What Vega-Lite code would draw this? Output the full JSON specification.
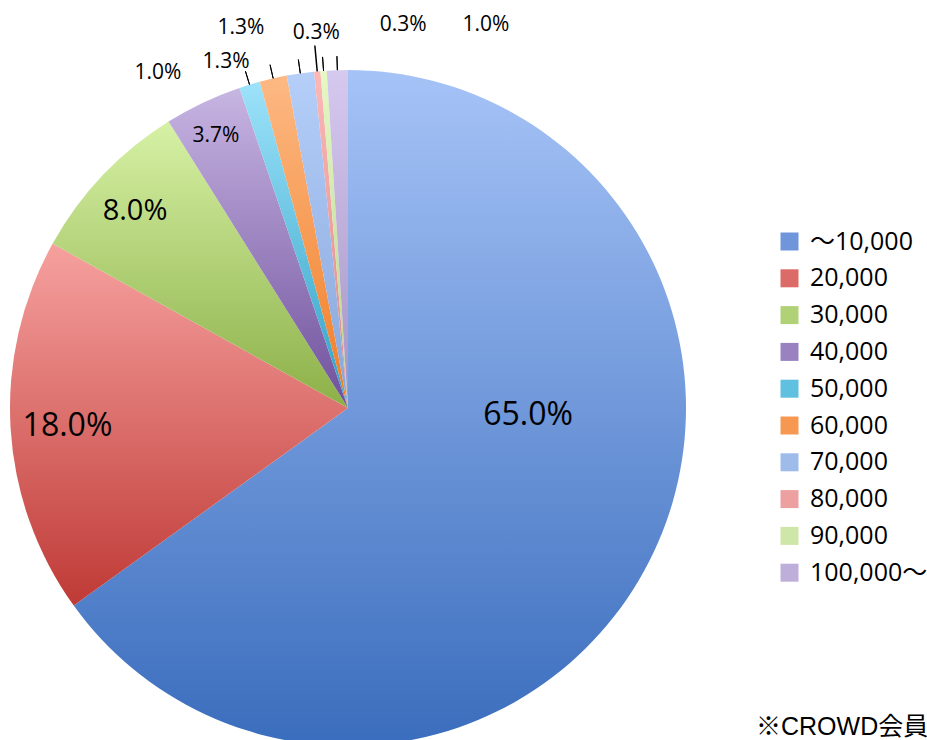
{
  "$schema": "https://vega.github.io/schema/vega-lite/v6.json",
  "width": 696,
  "height": 816,
  "autosize": {"type": "none"},
  "padding": {"left": 0, "top": 0, "right": 231, "bottom": -76},
  "background": "white",
  "config": {"view": {"stroke": null}},
  "params": [
    {
      "name": "grad",
      "value": {
        "～10,000": {"gradient": "linear", "x1": 0, "y1": 0, "x2": 0, "y2": 1, "stops": [{"offset": 0, "color": "#a6c3f7"}, {"offset": 1, "color": "#3a6dbd"}]},
        "20,000": {"gradient": "linear", "x1": 0, "y1": 0, "x2": 0, "y2": 1, "stops": [{"offset": 0, "color": "#f6a19f"}, {"offset": 1, "color": "#bf3a36"}]},
        "30,000": {"gradient": "linear", "x1": 0, "y1": 0, "x2": 0, "y2": 1, "stops": [{"offset": 0, "color": "#d6f1a5"}, {"offset": 1, "color": "#8cb048"}]},
        "40,000": {"gradient": "linear", "x1": 0, "y1": 0, "x2": 0, "y2": 1, "stops": [{"offset": 0, "color": "#c7b5e2"}, {"offset": 1, "color": "#6f509c"}]},
        "50,000": {"gradient": "linear", "x1": 0, "y1": 0, "x2": 0, "y2": 1, "stops": [{"offset": 0, "color": "#9de2fa"}, {"offset": 1, "color": "#2fa1c5"}]},
        "60,000": {"gradient": "linear", "x1": 0, "y1": 0, "x2": 0, "y2": 1, "stops": [{"offset": 0, "color": "#fdb984"}, {"offset": 1, "color": "#f07c24"}]},
        "70,000": {"gradient": "linear", "x1": 0, "y1": 0, "x2": 0, "y2": 1, "stops": [{"offset": 0, "color": "#b5cff9"}, {"offset": 1, "color": "#86a5da"}]},
        "80,000": {"gradient": "linear", "x1": 0, "y1": 0, "x2": 0, "y2": 1, "stops": [{"offset": 0, "color": "#fcb8b7"}, {"offset": 1, "color": "#d98685"}]},
        "90,000": {"gradient": "linear", "x1": 0, "y1": 0, "x2": 0, "y2": 1, "stops": [{"offset": 0, "color": "#e5f9c3"}, {"offset": 1, "color": "#b5d18b"}]},
        "100,000～": {"gradient": "linear", "x1": 0, "y1": 0, "x2": 0, "y2": 1, "stops": [{"offset": 0, "color": "#d6c9ef"}, {"offset": 1, "color": "#a492c4"}]}
      }
    }
  ],
  "title": {
    "text": "※CROWD会員",
    "orient": "bottom",
    "anchor": "start",
    "frame": "group",
    "baseline": "alphabetic",
    "offset": -81,
    "dx": 756,
    "font": "Liberation Sans, Noto Sans CJK JP",
    "fontSize": 25,
    "fontWeight": "normal",
    "color": "black"
  },
  "data": {
    "values": [
      {"i": 1, "cat": "～10,000", "share": 65.0, "label": "65.0%"},
      {"i": 2, "cat": "20,000", "share": 18.0, "label": "18.0%"},
      {"i": 3, "cat": "30,000", "share": 8.0, "label": "8.0%"},
      {"i": 4, "cat": "40,000", "share": 3.7, "label": "3.7%"},
      {"i": 5, "cat": "50,000", "share": 1.0, "label": "1.0%"},
      {"i": 6, "cat": "60,000", "share": 1.3, "label": "1.3%"},
      {"i": 7, "cat": "70,000", "share": 1.3, "label": "1.3%"},
      {"i": 8, "cat": "80,000", "share": 0.3, "label": "0.3%"},
      {"i": 9, "cat": "90,000", "share": 0.3, "label": "0.3%"},
      {"i": 10, "cat": "100,000～", "share": 1.0, "label": "1.0%"}
    ]
  },
  "encoding": {
    "theta": {"field": "share", "type": "quantitative", "stack": true},
    "order": {"field": "i", "type": "quantitative"},
    "detail": {"field": "cat", "type": "nominal"}
  },
  "layer": [
    {
      "mark": {"type": "arc", "outerRadius": 338, "fill": {"expr": "grad[datum.cat]"}, "stroke": null}
    },
    {
      "mark": {"type": "arc", "outerRadius": 352, "innerRadius": 338, "padAngle": 3.3, "filled": false, "stroke": "black", "strokeWidth": 1},
      "encoding": {
        "strokeOpacity": {"condition": {"test": "datum.i >= 5 && datum.i !== 8", "value": 1}, "value": 0}
      }
    },
    {
      "mark": {"type": "arc", "outerRadius": 364, "innerRadius": 338, "padAngle": 3.3, "filled": false, "stroke": "black", "strokeWidth": 1.5},
      "encoding": {
        "strokeOpacity": {"condition": {"test": "datum.i === 8", "value": 1}, "value": 0}
      }
    },
    {
      "mark": {"type": "text", "fontSize": 1},
      "encoding": {
        "text": {"value": ""},
        "color": {
          "field": "cat",
          "type": "nominal",
          "scale": {
            "domain": ["～10,000", "20,000", "30,000", "40,000", "50,000", "60,000", "70,000", "80,000", "90,000", "100,000～"],
            "range": ["#6f95da", "#dc6a67", "#b0d175", "#9a82c1", "#5fc0df", "#f69852", "#9ebbea", "#eca1a0", "#cee6a8", "#bdafda"]
          },
          "legend": {
            "orient": "none",
            "legendX": 777,
            "legendY": 229,
            "title": null,
            "padding": 0,
            "symbolType": "square",
            "symbolSize": 324,
            "symbolStrokeWidth": 0,
            "symbolOpacity": 1,
            "labelFont": "Open Sans, Noto Sans CJK JP",
            "labelFontSize": 25,
            "labelColor": "black",
            "labelOffset": 8,
            "labelLimit": 0,
            "rowPadding": 10.8
          }
        }
      }
    },
    {
      "mark": {"type": "text", "radius": 180, "dx": 19.8, "dy": -75, "fontSize": 32, "font": "Open Sans", "fill": "black"},
      "encoding": {"text": {"condition": {"test": "datum.cat === '～10,000'", "field": "label", "type": "nominal"}, "value": ""}}
    },
    {
      "mark": {"type": "text", "radius": 280, "dx": -1, "dy": 2, "fontSize": 32, "font": "Open Sans", "fill": "black"},
      "encoding": {"text": {"condition": {"test": "datum.cat === '20,000'", "field": "label", "type": "nominal"}, "value": ""}}
    },
    {
      "mark": {"type": "text", "radius": 289, "dx": -3.4, "dy": 2, "fontSize": 29, "font": "Open Sans", "fill": "black"},
      "encoding": {"text": {"condition": {"test": "datum.cat === '30,000'", "field": "label", "type": "nominal"}, "value": ""}}
    },
    {
      "mark": {"type": "text", "radius": 303, "dx": -2, "dy": 1.7, "fontSize": 21, "font": "Open Sans", "fill": "black"},
      "encoding": {"text": {"condition": {"test": "datum.cat === '40,000'", "field": "label", "type": "nominal"}, "value": ""}}
    },
    {
      "mark": {"type": "text", "radius": 338, "dx": -91.7, "dy": -11.6, "fontSize": 21, "font": "Open Sans", "fill": "black"},
      "encoding": {"text": {"condition": {"test": "datum.cat === '50,000'", "field": "label", "type": "nominal"}, "value": ""}}
    },
    {
      "mark": {"type": "text", "radius": 338, "dx": -47.1, "dy": -16.4, "fontSize": 21, "font": "Open Sans", "fill": "black"},
      "encoding": {"text": {"condition": {"test": "datum.cat === '60,000'", "field": "label", "type": "nominal"}, "value": ""}}
    },
    {
      "mark": {"type": "text", "radius": 338, "dx": -59.4, "dy": -45.4, "fontSize": 21, "font": "Open Sans", "fill": "black"},
      "encoding": {"text": {"condition": {"test": "datum.cat === '70,000'", "field": "label", "type": "nominal"}, "value": ""}}
    },
    {
      "mark": {"type": "text", "radius": 338, "dx": -0.9, "dy": -38.4, "fontSize": 21, "font": "Open Sans", "fill": "black"},
      "encoding": {"text": {"condition": {"test": "datum.cat === '80,000'", "field": "label", "type": "nominal"}, "value": ""}}
    },
    {
      "mark": {"type": "text", "radius": 338, "dx": 79.7, "dy": -45.4, "fontSize": 21, "font": "Open Sans", "fill": "black"},
      "encoding": {"text": {"condition": {"test": "datum.cat === '90,000'", "field": "label", "type": "nominal"}, "value": ""}}
    },
    {
      "mark": {"type": "text", "radius": 338, "dx": 148.6, "dy": -44.7, "fontSize": 21, "font": "Open Sans", "fill": "black"},
      "encoding": {"text": {"condition": {"test": "datum.cat === '100,000～'", "field": "label", "type": "nominal"}, "value": ""}}
    }
  ]
}
